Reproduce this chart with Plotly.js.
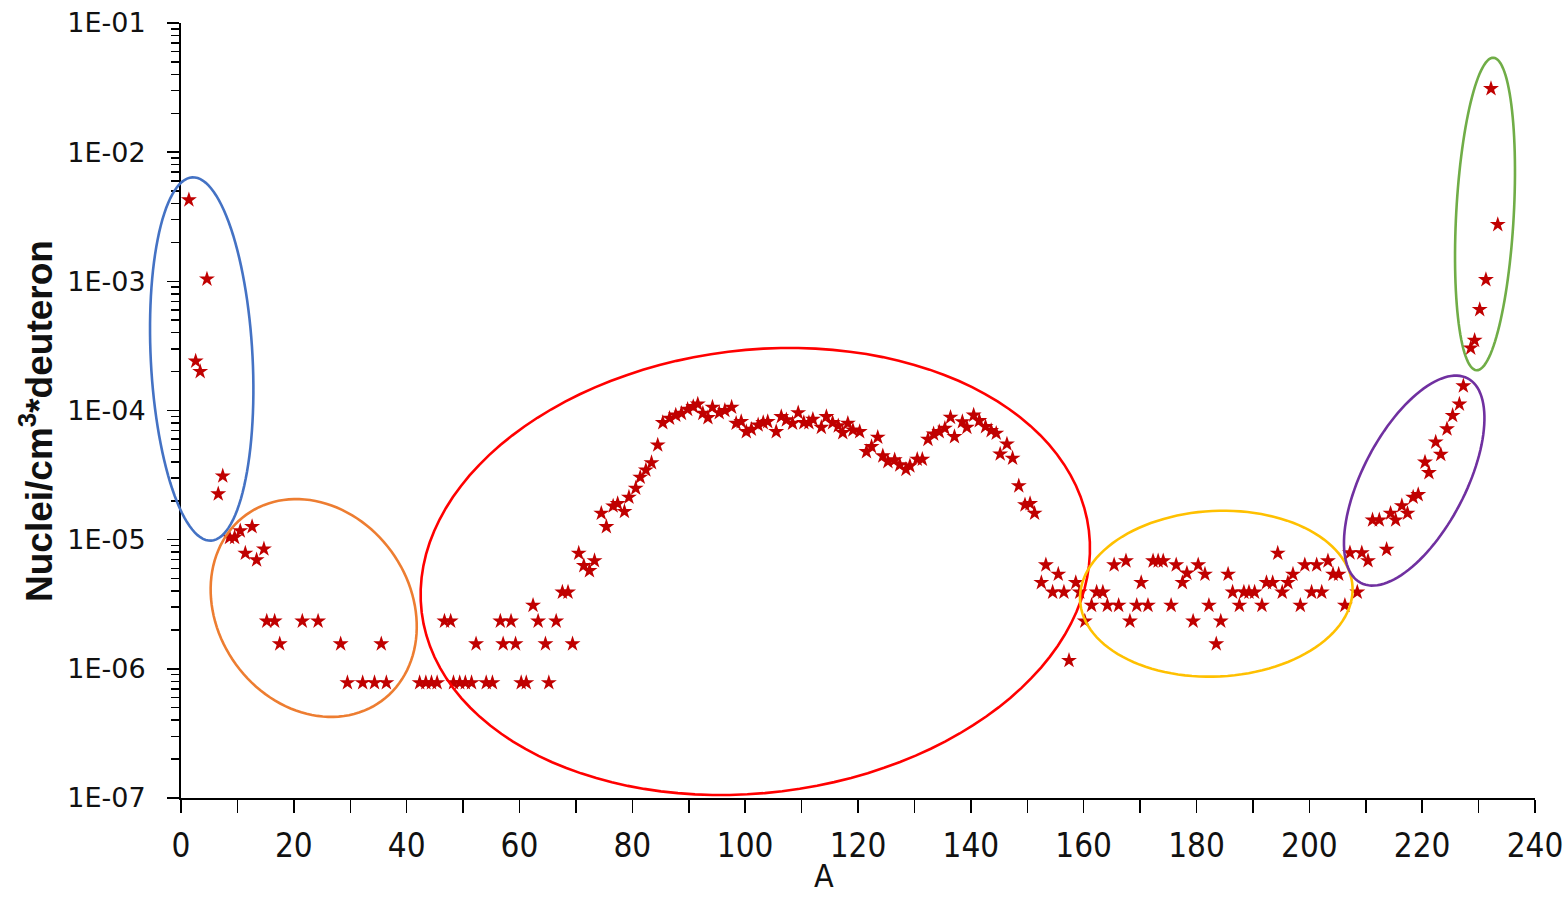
<!DOCTYPE html>
<html>
<head>
<meta charset="utf-8">
<script src="https://cdn.plot.ly/plotly-3.0.1.min.js"></script>
<style>
  html, body { margin: 0; padding: 0; background: #fff; }
  #chart { width: 1568px; height: 898px; }
</style>
</head>
<body>
<div id="chart"></div>
<script>
// ---- Data ----
const massNumber = [
  1.4, 2.6, 3.4, 4.6, 6.6, 7.4, 8.6, 9.5, 10.5, 11.4, 12.6, 13.4, 14.7, 15.2, 16.6, 17.5,
  21.5, 24.3, 28.3, 29.5, 32.2, 34.3, 35.5, 36.4,
  42.3, 43.4, 44.4, 45.4, 46.7, 47.8, 48.3, 49.4, 50.4, 51.5, 52.3, 54.1, 55.2,
  56.6, 57.1, 58.5, 59.3, 60.3, 61.2, 62.4, 63.3, 64.6, 65.2, 66.5, 67.6, 68.6, 69.4,
  70.5, 71.4, 72.4, 73.3, 74.5, 75.4, 76.6, 77.4, 78.6, 79.4, 80.6, 81.4, 82.4, 83.4,
  84.5, 85.4, 86.6, 87.7, 88.7, 89.8, 90.8, 91.6, 92.5, 93.4, 94.2, 95.4, 96.4, 97.6,
  98.4, 99.3, 100.2, 101.1, 102.3, 103.2, 104.0, 105.5, 106.4, 107.3, 108.4, 109.4,
  110.4, 111.3, 112.0, 113.5, 114.4, 115.5, 116.5, 117.3, 118.2, 119.1, 120.3,
  121.5, 122.4, 123.5, 124.4, 125.3, 126.5, 127.4, 128.5, 129.2, 130.5, 131.4,
  132.4, 133.4, 134.4, 135.4, 136.4, 137.1, 138.5, 139.3, 140.5, 141.5, 142.6,
  143.6, 144.5, 145.2, 146.4, 147.4, 148.5, 149.6, 150.5, 151.3,
  152.5, 153.3, 154.5, 155.5, 156.5, 157.4, 158.6, 159.3, 160.2, 161.4, 162.3,
  163.4, 164.2, 165.4, 166.2, 167.5, 168.2, 169.4, 170.2, 171.4, 172.3, 173.2,
  174.1, 175.5, 176.4, 177.5, 178.3, 179.4, 180.3, 181.5, 182.2, 183.5, 184.3,
  185.6, 186.4, 187.6, 188.4, 189.3, 190.3, 191.6, 192.4, 193.5, 194.4, 195.2,
  196.2, 197.1, 198.4, 199.2, 200.4, 201.3, 202.2, 203.3, 204.2, 205.2, 206.3,
  207.2, 208.5, 209.3, 210.4, 211.2, 212.4, 213.7, 214.4, 215.3, 216.4, 217.4,
  218.4, 219.3, 220.5, 221.2, 222.4, 223.3, 224.4, 225.4, 226.6, 227.3,
  228.6, 229.3, 230.2, 231.3, 232.2, 233.4
];
const nucleiPerCm3 = [
  4.27e-3, 2.41e-4, 2.0e-4, 1.04e-3, 2.26e-5, 3.11e-5, 1.04e-5, 1.04e-5, 1.17e-5, 7.85e-6, 1.26e-5, 6.97e-6, 8.47e-6, 2.34e-6, 2.34e-6, 1.56e-6,
  2.34e-6, 2.34e-6, 1.56e-6, 7.8e-7, 7.8e-7, 7.8e-7, 1.56e-6, 7.8e-7,
  7.8e-7, 7.8e-7, 7.8e-7, 7.8e-7, 2.34e-6, 2.34e-6, 7.8e-7, 7.8e-7, 7.8e-7, 7.8e-7, 1.56e-6, 7.8e-7, 7.8e-7,
  2.34e-6, 1.56e-6, 2.34e-6, 1.56e-6, 7.8e-7, 7.8e-7, 3.1e-6, 2.34e-6, 1.56e-6, 7.8e-7, 2.34e-6, 3.92e-6, 3.92e-6, 1.56e-6,
  7.85e-6, 6.3e-6, 5.75e-6, 6.87e-6, 1.6e-5, 1.26e-5, 1.82e-5, 1.9e-5, 1.65e-5, 2.13e-5, 2.5e-5, 3.04e-5, 3.46e-5, 3.94e-5,
  5.4e-5, 8.05e-5, 8.7e-5, 9.2e-5, 9.5e-5, 1.02e-4, 1.07e-4, 1.12e-4, 9.5e-5, 8.8e-5, 1.06e-4, 9.6e-5, 1.0e-4, 1.06e-4,
  7.96e-5, 8.2e-5, 6.85e-5, 7.15e-5, 7.72e-5, 8.05e-5, 8.2e-5, 6.85e-5, 8.96e-5, 8.45e-5, 7.96e-5, 9.6e-5,
  8.05e-5, 8.05e-5, 8.55e-5, 7.4e-5, 8.96e-5, 8.05e-5, 7.6e-5, 6.73e-5, 7.96e-5, 7.06e-5, 6.85e-5,
  4.8e-5, 5.25e-5, 6.2e-5, 4.45e-5, 4.02e-5, 4.14e-5, 3.79e-5, 3.5e-5, 3.72e-5, 4.19e-5, 4.19e-5,
  5.98e-5, 6.58e-5, 6.85e-5, 7.28e-5, 8.85e-5, 6.27e-5, 8.18e-5, 7.4e-5, 9.2e-5, 8.34e-5, 7.5e-5,
  6.99e-5, 6.66e-5, 4.6e-5, 5.5e-5, 4.27e-5, 2.61e-5, 1.86e-5, 1.9e-5, 1.6e-5,
  4.65e-6, 6.37e-6, 3.92e-6, 5.4e-6, 3.92e-6, 1.16e-6, 4.65e-6, 3.92e-6, 2.34e-6, 3.1e-6, 3.92e-6,
  3.92e-6, 3.1e-6, 6.37e-6, 3.1e-6, 6.84e-6, 2.34e-6, 3.1e-6, 4.65e-6, 3.1e-6, 6.84e-6, 6.84e-6,
  6.84e-6, 3.1e-6, 6.37e-6, 4.65e-6, 5.5e-6, 2.34e-6, 6.37e-6, 5.4e-6, 3.1e-6, 1.56e-6, 2.34e-6,
  5.4e-6, 3.92e-6, 3.1e-6, 3.92e-6, 3.92e-6, 3.92e-6, 3.1e-6, 4.65e-6, 4.65e-6, 7.85e-6, 3.92e-6,
  4.65e-6, 5.4e-6, 3.1e-6, 6.37e-6, 3.92e-6, 6.37e-6, 3.92e-6, 6.84e-6, 5.4e-6, 5.4e-6, 3.1e-6,
  7.9e-6, 3.92e-6, 7.9e-6, 6.87e-6, 1.42e-5, 1.42e-5, 8.4e-6, 1.6e-5, 1.42e-5, 1.83e-5, 1.6e-5,
  2.13e-5, 2.23e-5, 3.98e-5, 3.3e-5, 5.69e-5, 4.57e-5, 7.2e-5, 9.15e-5, 1.12e-4, 1.55e-4,
  3.04e-4, 3.49e-4, 6.04e-4, 1.03e-3, 3.1e-2, 2.75e-3
];
const yTickValues = [1e-7, 1e-6, 1e-5, 1e-4, 1e-3, 1e-2, 1e-1];
const yTickLabels = ['1E-07', '1E-06', '1E-05', '1E-04', '1E-03', '1E-02', '1E-01'];
const xTitle = 'A';
const yTitle = 'Nuclei/cm<sup>3</sup>*deuteron';

// ---- Layout geometry ----
const W = 1568, H = 898;
const M = { l: 181, r: 33, t: 23, b: 100 };
const PW = W - M.l - M.r, PH = H - M.t - M.b;

// minor log ticks 2..9 in each decade
const minorY = [];
for (let e = -7; e < -1; e++) for (let k = 2; k <= 9; k++) minorY.push(k * Math.pow(10, e));

// annotation ellipses (page pixels): centre, semi-axes, rotation (deg)
const ellipses = [
  { cx: 201.7, cy: 359, a: 181.9, b: 50.9, rot: 87.05, color: '#4472C4' },
  { cx: 313.7, cy: 608, a: 115.1, b: 96.1, rot: 54, color: '#ED7D31' },
  { cx: 755.3, cy: 571.5, a: 336.1, b: 221.4, rot: -7, color: '#FF0000' },
  { cx: 1216.3, cy: 593.7, a: 136.4, b: 82.8, rot: -2.85, color: '#FFC000' },
  { cx: 1414.2, cy: 480.6, a: 115.4, b: 51.4, rot: -62.4, color: '#7030A0' },
  { cx: 1485, cy: 214, a: 156.5, b: 28.8, rot: -86.9, color: '#70AD47' }
];
function ellipsePath(e) {
  const th = e.rot * Math.PI / 180, n = 120;
  let d = '';
  for (let i = 0; i <= n; i++) {
    const t = 2 * Math.PI * i / n;
    const px = e.cx + e.a * Math.cos(t) * Math.cos(th) - e.b * Math.sin(t) * Math.sin(th);
    const py = e.cy + e.a * Math.cos(t) * Math.sin(th) + e.b * Math.sin(t) * Math.cos(th);
    const x = (px - M.l) / PW, y = 1 - (py - M.t) / PH;
    d += (i === 0 ? 'M' : 'L') + x.toFixed(5) + ',' + y.toFixed(5) + ' ';
  }
  return d + 'Z';
}
const shapes = ellipses.map(e => ({
  type: 'path', xref: 'paper', yref: 'paper', path: ellipsePath(e),
  line: { color: e.color, width: 2.6 }, fillcolor: 'rgba(0,0,0,0)', layer: 'above'
}));

const trace = {
  x: massNumber, y: nucleiPerCm3, type: 'scatter', mode: 'markers',
  marker: { symbol: 'star', size: 12, color: '#C00000', line: { width: 0 } },
  cliponaxis: false, showlegend: false, hoverinfo: 'x+y'
};

const narrow = 'Liberation Sans Narrow, DejaVu Sans Condensed, Liberation Sans, sans-serif';
const layout = {
  width: W, height: H,
  margin: M,
  paper_bgcolor: '#ffffff', plot_bgcolor: '#ffffff',
  showlegend: false,
  shapes: shapes,
  annotations: [
    { text: xTitle, xref: 'paper', yref: 'paper', x: (824 - M.l) / PW, y: 1 - (876 - M.t) / PH,
      xanchor: 'center', yanchor: 'middle', showarrow: false,
      font: { family: narrow, size: 32, color: '#111' } },
    { text: yTitle, xref: 'paper', yref: 'paper', x: (36 - M.l) / PW, y: 1 - (421 - M.t) / PH,
      xanchor: 'center', yanchor: 'middle', showarrow: false, textangle: -90,
      font: { family: 'Liberation Sans, Arial, sans-serif', size: 37, color: '#111', weight: 'bold' } }
  ],
  xaxis: {
    range: [0, 240], dtick: 20, tick0: 0,
    showgrid: false, zeroline: false,
    showline: true, linecolor: '#000', linewidth: 2,
    ticks: 'outside', ticklen: 13, tickwidth: 1.5, tickcolor: '#000',
    minor: { dtick: 10, ticks: 'outside', ticklen: 13, tickwidth: 1.5, tickcolor: '#000', showgrid: false },
    tickfont: { family: narrow, size: 33, color: '#111' },
    ticklabelstandoff: 4,
    automargin: false
  },
  yaxis: {
    type: 'log', range: [-7, -1],
    tickvals: yTickValues, ticktext: yTickLabels,
    showgrid: false, zeroline: false,
    showline: true, linecolor: '#000', linewidth: 2,
    ticks: 'outside', ticklen: 12, tickwidth: 1.5, tickcolor: '#000',
    minor: { tickvals: minorY, ticks: 'outside', ticklen: 8, tickwidth: 1.5, tickcolor: '#000', showgrid: false },
    tickfont: { family: 'DejaVu Sans, sans-serif', size: 27, color: '#111' },
    ticklabelstandoff: 16,
    automargin: false
  }
};

Plotly.newPlot('chart', [trace], layout, { displayModeBar: false, staticPlot: true });
</script>
</body>
</html>
